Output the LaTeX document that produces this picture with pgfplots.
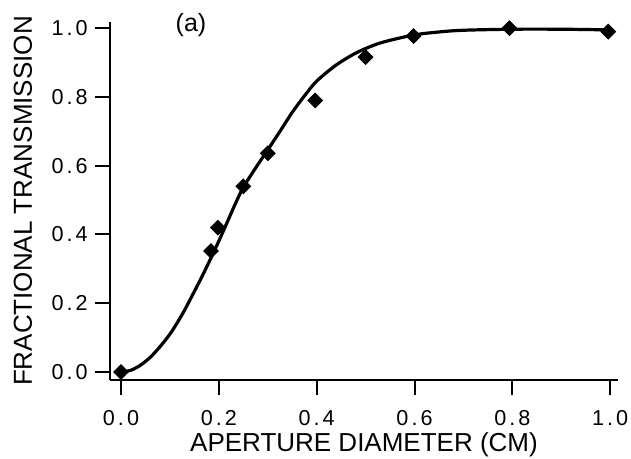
\documentclass[border=0pt]{standalone}
\usepackage{pgfplots}
\pgfplotsset{compat=1.18}
\usepackage{fontspec}
\setmainfont{Liberation Sans}
\newfontfamily\tickfont[LetterSpace=14]{Liberation Sans}
\begin{document}
\begin{tikzpicture}
\begin{axis}[
  scale only axis,
  width=254bp, height=179bp,
  xmin=-0.0225, xmax=1.016,
  ymin=-0.0233, ymax=1.018,
  axis x line*=bottom, axis y line*=left,
  axis line style={-, line width=1.3bp},
  xtick pos=bottom, ytick pos=left,
  tick align=outside,
  major tick length=7.5bp,
  every tick/.style={black, line width=1bp},
  xtick={0,0.2,0.4,0.6,0.8,1.0},
  xticklabels={0.0,0.2,0.4,0.6,0.8,1.0},
  ytick={0,0.2,0.4,0.6,0.8,1.0},
  yticklabels={0.0,0.2,0.4,0.6,0.8,1.0},
  ticklabel style={font=\tickfont\fontsize{10.8bp}{12bp}\selectfont},
  xticklabel style={inner sep=0pt, anchor=north, yshift=-7.5bp},
  yticklabel style={inner sep=0pt, anchor=east, xshift=-3.5bp},
  xlabel={APERTURE DIAMETER (CM)},
  ylabel={FRACTIONAL TRANSMISSION},
  label style={font=\fontsize{13bp}{15bp}\selectfont},
  xlabel style={at={(axis description cs:0.5,0)}, anchor=base, yshift=-35.5bp, inner sep=0pt},
  ylabel style={at={(axis description cs:0,0.5)}, anchor=base, yshift=39bp, inner sep=0pt},
  clip=false,
]
\addplot[black, line width=1.6bp, smooth, tension=0.5] coordinates {
(0,0) (0.02,0.005) (0.04,0.02) (0.06,0.043) (0.08,0.074) (0.10,0.11) (0.114,0.141)
(0.13,0.18) (0.148,0.229) (0.165,0.276) (0.182,0.326) (0.2,0.381) (0.216,0.432)
(0.233,0.487) (0.25,0.537) (0.275,0.593) (0.30,0.646) (0.325,0.70) (0.35,0.755)
(0.375,0.803) (0.40,0.846) (0.44,0.893) (0.482,0.929) (0.53,0.957) (0.598,0.980)
(0.65,0.989) (0.7,0.994) (0.8,0.997) (0.9,0.997) (1.0,0.995)
};
\addplot[only marks, mark=square*, mark size=2.6bp, mark options={rotate=45, fill=black, draw=black}] coordinates {
(0,0) (0.184,0.352) (0.198,0.42) (0.25,0.54) (0.30,0.636) (0.397,0.79)
(0.50,0.916) (0.598,0.977) (0.794,1.0) (0.996,0.99)
};
\node[font=\fontsize{12.5bp}{14bp}\selectfont, inner sep=0pt] at (axis cs:0.143,1.009) {(a)};
\end{axis}
\useasboundingbox (current axis.south west) ++(-55bp,-39.5bp) rectangle ++(315.5bp,229.5bp);
\end{tikzpicture}
\end{document}
